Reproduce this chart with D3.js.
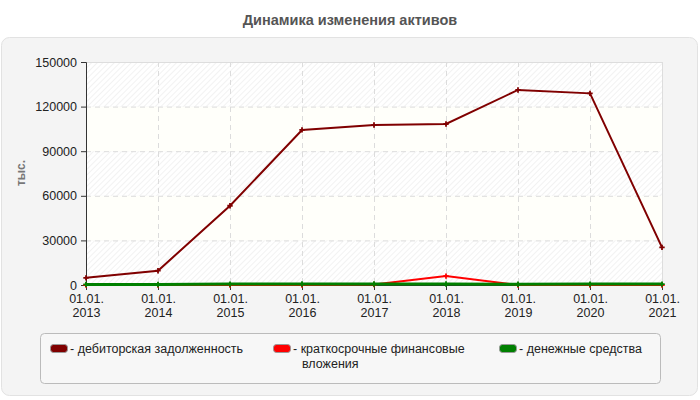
<!DOCTYPE html>
<html>
<head>
<meta charset="utf-8">
<script src="https://cdn.jsdelivr.net/npm/d3@7"></script>
<style>
  body { margin: 0; background: #fff; }
  svg text { font-family: "Liberation Sans", Arial, sans-serif; }
</style>
</head>
<body>
<div id="chart"></div>
<script>
// Data
const years = ["2013", "2014", "2015", "2016", "2017", "2018", "2019", "2020", "2021"];
const receivables = [4800, 9600, 53300, 104300, 107600, 108300, 131200, 128900, 25300];
const shortInvest = [0, 0, 0, 0, 300, 6000, 0, 0, 0];
const cash = [400, 300, 600, 700, 700, 700, 500, 600, 600];
const yTicks = [0, 30000, 60000, 90000, 120000, 150000];

const seriesNames = ["дебиторская задолженность", "краткосрочные финансовые вложения", "денежные средства"];
const seriesColors = ["#800000", "#ff0000", "#008000"];

const W = 700, H = 400;
const margin = { top: 62, right: 38, bottom: 115, left: 86 };
const width = W - margin.left - margin.right;
const height = H - margin.top - margin.bottom;

const svg = d3.select("#chart").append("svg")
    .attr("width", W)
    .attr("height", H);

// Hatch pattern for alternating bands
const defs = svg.append("defs");
const pat = defs.append("pattern")
    .attr("id", "hatch")
    .attr("patternUnits", "userSpaceOnUse")
    .attr("width", 4).attr("height", 4)
    .attr("patternTransform", "rotate(45)");
pat.append("rect").attr("width", 4).attr("height", 4).attr("fill", "#ffffff");
pat.append("line").attr("x1", 0).attr("y1", 0).attr("x2", 0).attr("y2", 4)
    .attr("stroke", "#eeeeee").attr("stroke-width", 1.5);

// Title
svg.append("text")
    .attr("x", W / 2).attr("y", 25)
    .attr("text-anchor", "middle")
    .attr("font-size", 14.5).attr("font-weight", "bold")
    .attr("fill", "#555")
    .text("Динамика изменения активов");

// Panel
svg.append("rect")
    .attr("x", 1.5).attr("y", 37.5).attr("width", 696).attr("height", 358)
    .attr("rx", 8)
    .attr("fill", "#f4f4f4").attr("stroke", "#e2e2e2");

const g = svg.append("g").attr("transform", `translate(${margin.left},${margin.top})`);

// Scales
const x = d3.scalePoint().domain(years).range([0, width]);
const y = d3.scaleLinear().domain([0, 150000]).range([height, 0]);

// Bands
for (let i = 0; i < yTicks.length - 1; i++) {
    g.append("rect")
        .attr("x", 0).attr("width", width)
        .attr("y", y(yTicks[i + 1])).attr("height", y(yTicks[i]) - y(yTicks[i + 1]))
        .attr("fill", i % 2 === 0 ? "url(#hatch)" : "#fffffa");
}

// Grid
g.append("g").selectAll("line")
    .data(yTicks.slice(1, -1))
    .join("line")
    .attr("x1", 0).attr("x2", width)
    .attr("y1", d => y(d) + 0.5).attr("y2", d => y(d) + 0.5)
    .attr("stroke", "#dcdcdc").attr("stroke-dasharray", "5,4");
g.append("g").selectAll("line")
    .data(years.slice(1, -1))
    .join("line")
    .attr("x1", d => x(d) + 0.5).attr("x2", d => x(d) + 0.5)
    .attr("y1", 0).attr("y2", height)
    .attr("stroke", "#dcdcdc").attr("stroke-dasharray", "5,4");

// Frame top/right
g.append("line").attr("x1", 0).attr("x2", width).attr("y1", 0.5).attr("y2", 0.5).attr("stroke", "#dddddd");
g.append("line").attr("x1", width + 0.5).attr("x2", width + 0.5).attr("y1", 0).attr("y2", height).attr("stroke", "#dddddd");

// Axes
const yAxis = g.append("g")
    .call(d3.axisLeft(y).tickValues(yTicks).tickSize(5).tickPadding(4).tickFormat(d3.format("d")));
yAxis.select(".domain").attr("stroke", "#333");
yAxis.selectAll(".tick line").attr("stroke", "#333");
yAxis.selectAll("text").attr("font-size", 12.5).attr("fill", "#222")
    .style("font-family", "Liberation Sans, Arial, sans-serif");

const xAxis = g.append("g")
    .attr("transform", `translate(0,${height})`)
    .call(d3.axisBottom(x).tickSize(5).tickPadding(4).tickFormat(""));
xAxis.select(".domain").attr("stroke", "#333");
xAxis.selectAll(".tick line").attr("stroke", "#333");
xAxis.selectAll(".tick").append("text")
    .attr("text-anchor", "middle")
    .attr("fill", "#222").attr("font-size", 12.5)
    .each(function(d) {
        const t = d3.select(this);
        t.append("tspan").attr("x", 0).attr("y", 18).text("01.01.");
        t.append("tspan").attr("x", 0).attr("y", 32).text(d);
    });

// Y label
svg.append("text")
    .attr("transform", "translate(25,173) rotate(-90)")
    .attr("text-anchor", "middle")
    .attr("font-size", 12).attr("font-weight", "bold")
    .attr("fill", "#777")
    .text("тыс.");

// Lines
const allSeries = [receivables, shortInvest, cash];
const widths = [2, 2, 3];
const line = d3.line().x((d, i) => x(years[i])).y(d => y(d));
allSeries.forEach((s, k) => {
    g.append("path")
        .datum(s)
        .attr("fill", "none")
        .attr("stroke", seriesColors[k])
        .attr("stroke-width", widths[k])
        .attr("d", line);
    g.append("g").selectAll("path")
        .data(s)
        .join("path")
        .attr("transform", (d, i) => `translate(${x(years[i])},${y(d)})`)
        .attr("d", d3.symbol(d3.symbolCross, 16))
        .attr("fill", seriesColors[k]);
});

// Legend
svg.append("rect")
    .attr("x", 40.5).attr("y", 333.5).attr("width", 620).attr("height", 50)
    .attr("rx", 4)
    .attr("fill", "#f7f7f7").attr("stroke", "#bbbbbb");

const legendItems = [
    { x: 50, lines: ["- дебиторская задолженность"] },
    { x: 273, lines: ["- краткосрочные финансовые", "вложения"] },
    { x: 499, lines: ["- денежные средства"] }
];
legendItems.forEach((it, k) => {
    const lg = svg.append("g").attr("transform", `translate(${it.x},344)`);
    lg.append("rect")
        .attr("x", 0.5).attr("y", 0.5).attr("width", 17).attr("height", 8).attr("rx", 3)
        .attr("fill", seriesColors[k]).attr("stroke", "#999");
    it.lines.forEach((l, j) => {
        lg.append("text").attr("font-size", 12.5).attr("fill", "#222")
            .attr("x", j === 0 ? 20 : 29).attr("y", 9 + j * 15).text(l);
    });
});
</script>
</body>
</html>
